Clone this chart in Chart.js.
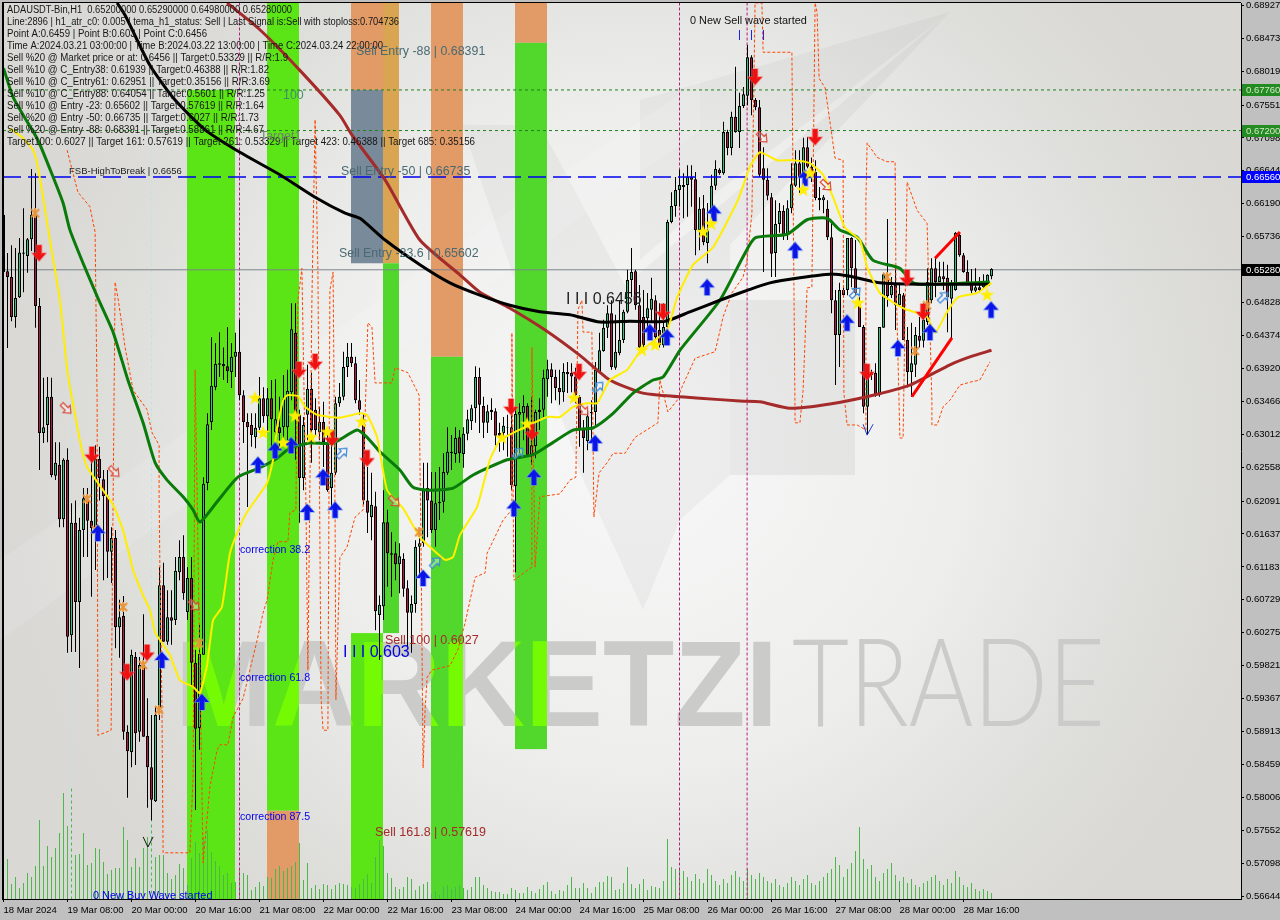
<!DOCTYPE html>
<html><head><meta charset="utf-8"><style>html,body{margin:0;padding:0;background:#c0c0c0;overflow:hidden}canvas{display:block}</style>
<script src="https://cdn.jsdelivr.net/npm/chart.js@4"></script></head><body>
<div style="width:1280px;height:920px"><canvas id="c" width="1280" height="920"></canvas></div>
<script>
// Prices are quoted in 1/10000 of a unit (6528 = 0.6528)
const opens=[6604,6526,6518,6463,6490,6550,6547,6570,6604,6478,6303,6314,6353,6244,6259,6184,6266,6024,6179,6070,6169,6210,6182,6173,6267,6239,6216,6139,6158,6035,6051,5891,5863,5994,5891,5983,5885,5842,5795,5924,6093,6015,6049,6045,6111,6132,6056,6103,5986,5896,5997,6234,6318,6366,6397,6398,6395,6387,6408,6415,6355,6318,6314,6297,6310,6351,6326,6351,6304,6311,6311,6311,6359,6441,6328,6241,6328,6364,6335,6304,6318,6289,6227,6248,6344,6353,6394,6408,6399,6348,6321,6210,6187,6202,6052,6064,6180,6137,6137,6122,6129,6089,6055,6067,6146,6151,6227,6210,6169,6206,6208,6248,6275,6274,6297,6274,6302,6319,6337,6380,6340,6317,6335,6333,6303,6303,6311,6311,6230,6328,6330,6340,6273,6285,6335,6335,6377,6391,6380,6365,6359,6387,6386,6381,6353,6308,6292,6330,6332,6387,6416,6448,6468,6393,6413,6431,6470,6514,6526,6479,6463,6461,6473,6486,6445,6424,6449,6594,6616,6638,6642,6645,6656,6653,6583,6613,6565,6605,6644,6666,6661,6718,6696,6739,6718,6754,6768,6821,6762,6752,6668,6652,6628,6551,6591,6609,6576,6613,6644,6675,6656,6697,6670,6663,6627,6624,6612,6573,6486,6438,6500,6500,6572,6530,6482,6449,6339,6386,6386,6355,6448,6514,6493,6507,6479,6493,6431,6387,6397,6437,6430,6456,6486,6530,6511,6519,6517,6488,6500,6576,6548,6525,6510,6499,6504,6504,6511,6519];
const closes=[6525,6518,6463,6489,6552,6552,6570,6604,6478,6303,6311,6353,6245,6262,6184,6266,6022,6179,6070,6169,6213,6182,6172,6267,6241,6216,6139,6158,6035,6049,5891,5864,5997,5889,5983,5884,5842,5797,5914,6093,6015,6049,6044,6113,6132,6082,6103,5986,5895,5998,6233,6315,6368,6398,6399,6395,6388,6408,6415,6355,6318,6311,6300,6310,6351,6326,6351,6322,6322,6303,6350,6361,6446,6328,6241,6314,6364,6307,6307,6318,6290,6224,6248,6344,6353,6394,6408,6399,6348,6335,6210,6193,6204,6057,6066,6180,6137,6135,6122,6133,6088,6055,6067,6146,6151,6224,6210,6169,6206,6208,6249,6277,6277,6296,6275,6302,6322,6337,6380,6342,6317,6333,6332,6299,6299,6313,6310,6231,6329,6332,6340,6273,6286,6332,6332,6379,6391,6380,6365,6359,6387,6384,6381,6355,6308,6296,6326,6332,6390,6417,6448,6468,6394,6415,6431,6470,6514,6525,6479,6421,6424,6475,6488,6435,6424,6449,6594,6616,6638,6645,6645,6656,6652,6583,6612,6566,6583,6644,6667,6661,6718,6696,6739,6718,6754,6770,6821,6762,6752,6659,6652,6630,6550,6591,6609,6576,6613,6646,6675,6656,6697,6670,6659,6627,6624,6628,6573,6486,6438,6500,6493,6572,6530,6496,6449,6339,6386,6383,6355,6449,6522,6492,6506,6479,6495,6431,6387,6399,6438,6430,6459,6511,6530,6511,6519,6515,6490,6510,6579,6548,6525,6510,6499,6504,6500,6511,6521,6529];
const highs=[6672,6551,6562,6558,6572,6613,6572,6667,6661,6489,6379,6380,6379,6290,6290,6268,6282,6206,6210,6186,6227,6227,6279,6286,6284,6252,6252,6173,6169,6073,6078,5900,6004,6001,5994,6053,5937,5914,5925,6118,6124,6086,6086,6132,6155,6162,6118,6132,6004,6038,6242,6330,6435,6427,6442,6421,6449,6427,6441,6459,6362,6330,6330,6330,6380,6366,6365,6376,6377,6353,6383,6390,6482,6482,6335,6325,6397,6386,6351,6339,6346,6307,6303,6353,6372,6415,6427,6427,6408,6376,6330,6256,6248,6222,6079,6224,6197,6166,6153,6151,6137,6100,6079,6155,6165,6262,6262,6249,6249,6256,6275,6311,6300,6311,6307,6311,6335,6342,6395,6393,6353,6342,6351,6337,6317,6325,6328,6348,6339,6344,6355,6344,6353,6335,6351,6390,6404,6399,6390,6390,6399,6401,6399,6393,6355,6321,6335,6348,6401,6441,6459,6479,6486,6466,6486,6473,6528,6558,6528,6507,6500,6496,6517,6493,6482,6482,6597,6635,6656,6666,6661,6672,6672,6663,6628,6631,6620,6659,6679,6668,6732,6721,6746,6808,6772,6780,6838,6824,6765,6762,6697,6668,6634,6624,6620,6617,6624,6675,6693,6693,6710,6711,6683,6679,6642,6631,6624,6597,6500,6510,6504,6572,6573,6569,6490,6452,6390,6390,6399,6449,6524,6598,6518,6532,6507,6496,6449,6455,6449,6463,6482,6530,6544,6544,6539,6539,6535,6514,6580,6579,6551,6541,6529,6530,6518,6522,6522,6530];
const lows=[6500,6420,6457,6448,6489,6497,6524,6554,6448,6252,6289,6290,6242,6238,6173,6173,6000,6001,6001,5979,6132,6132,6077,6114,6210,6100,6103,6096,6006,5993,5880,5800,5842,5845,5877,5884,5786,5769,5794,5907,6015,6011,6011,6038,6100,6073,6045,5953,5783,5866,5997,6224,6307,6362,6380,6376,6372,6365,6380,6348,6289,6201,6284,6282,6307,6317,6303,6284,6270,6284,6286,6293,6348,6266,6179,6224,6293,6262,6300,6293,6256,6222,6201,6245,6339,6348,6380,6394,6344,6328,6204,6165,6155,6031,5990,6045,6091,6077,6100,6082,6077,6008,6000,6055,6104,6146,6159,6165,6146,6183,6193,6245,6252,6262,6262,6255,6293,6307,6317,6303,6296,6303,6321,6286,6277,6279,6270,6224,6111,6275,6293,6270,6259,6268,6307,6325,6353,6344,6348,6342,6346,6358,6359,6344,6284,6248,6279,6293,6310,6387,6415,6434,6390,6390,6410,6427,6468,6490,6473,6420,6421,6445,6455,6431,6421,6421,6441,6592,6601,6615,6599,6601,6615,6548,6555,6562,6537,6594,6638,6659,6659,6686,6686,6717,6696,6751,6755,6741,6748,6656,6525,6624,6518,6518,6579,6569,6569,6606,6642,6634,6652,6668,6649,6624,6610,6606,6569,6468,6369,6394,6490,6493,6504,6493,6449,6330,6300,6376,6353,6353,6448,6477,6489,6445,6477,6431,6366,6353,6380,6421,6421,6452,6482,6490,6511,6500,6442,6434,6499,6546,6524,6507,6496,6497,6497,6503,6510,6515];
const volumes=[35,40,15,22,11,16,26,22,33,79,33,53,42,51,66,106,73,112,44,45,66,34,36,51,50,37,25,29,31,31,72,59,32,41,32,51,62,79,42,44,44,26,20,24,35,31,14,41,57,46,62,69,47,38,33,24,26,16,17,29,26,24,9,12,17,13,22,21,30,33,28,31,33,37,56,19,36,11,14,10,15,14,10,14,16,15,14,12,11,15,20,25,16,42,59,53,26,21,12,10,12,22,20,9,13,15,17,5,8,4,12,14,10,12,14,11,9,12,22,22,14,11,8,7,7,5,5,11,9,6,6,12,8,6,10,14,17,8,5,9,8,14,22,11,11,16,11,6,12,17,17,23,22,9,10,16,32,15,11,15,20,9,13,12,11,18,60,32,30,31,28,22,18,25,20,16,30,24,18,14,20,16,24,28,22,18,30,24,20,26,22,18,16,20,14,12,16,22,18,14,20,24,16,14,18,22,26,30,42,34,22,30,36,48,72,40,30,34,22,18,26,30,36,24,18,22,16,20,14,12,16,18,22,24,18,14,20,16,28,22,14,12,16,10,8,10,8,6];

const blackX=[28.4,30.4,36.6,42.9,50.4,59.1,69.1,77.9,85.4,89.1,95.4,104.1,111.6,119.1,126.6,134.1,141.6,149.1,156.6,165.4,171.6,179.1,186.6,191.6,199.1,206.6,211.6,219.1,229.1,246.6];
const blackP=[6896,6879,6810,6762,6721,6690,6659,6628,6606,6599,6569,6535,6510,6493,6479,6470,6466,6456,6457,6457,6470,6486,6501,6510,6517,6522,6519,6510,6508,6508];
const brownX=[55.9,64.1,74.1,84.1,87.1,95.4,104.1,114.1,119.1,126.6,135.4,144.1,151.6,159.1,164.1,174.1,184.1,189.1,196.6,206.6,216.6,226.6,236.6,241.6,247];
const brownP=[6896,6859,6803,6741,6714,6652,6569,6521,6497,6475,6445,6410,6376,6359,6355,6351,6347,6346,6337,6343,6354,6369,6397,6408,6417];
const yellowX=[1.6,4.6,7.4,8.4,9.6,11.6,14.1,16.1,19.6,20.9,24.9,27.4,29.9,32.4,34.9,36.6,37.9,39.9,41.6,44.1,47.4,49.1,50.9,52.4,54.6,56.6,58.4,60.9,65.9,67.4,68.4,69.9,70.9,73.6,75.4,78.4,84.1,89.1,90.9,93.4,95.9,99.9,104.1,106.6,110.4,112.4,114.1,118.4,121.6,124.1,127.4,135.9,139.1,142.4,145.9,148.4,151.6,155.9,159.1,165.9,168.4,172.4,177.4,183.6,186.6,189.1,193.4,197.4,201.6,204.9,207.4,210.4,214.1,215.9,219.1,224.9,230.9,232.9,235.9,238.6,243.4,247];
const yellowP=[6723,6711,6693,6675,6638,6569,6486,6383,6279,6256,6224,6204,6169,6114,6079,6059,6028,6011,5997,5962,5953,5944,5983,6045,6063,6137,6165,6194,6234,6266,6311,6348,6355,6354,6339,6328,6324,6330,6328,6297,6224,6199,6159,6146,6128,6132,6162,6201,6266,6293,6303,6325,6325,6339,6344,6344,6376,6390,6415,6445,6490,6535,6559,6624,6670,6690,6679,6679,6675,6659,6628,6586,6569,6532,6496,6475,6463,6441,6470,6490,6496,6510];
const greenX=[0,2.4,5.4,8.6,12.4,14.9,16.6,19.9,23.6,27.4,31.1,34.9,37.9,40.9,44.9,47.4,49.1,53.4,58.6,64.1,68.4,71.6,76.6,82.4,88.4,90.9,94.1,99.1,102.4,106.6,112.4,117.4,125.9,132.4,137.4,142.4,147.4,152.4,157.4,162.4,164.9,169.1,179.1,184.9,187.9,195.9,200.9,205.9,209.1,213.4,217.4,224.1,227.4,230.9,246.6];
const greenP=[6806,6766,6737,6707,6656,6620,6583,6537,6489,6442,6376,6317,6262,6238,6215,6197,6180,6208,6242,6255,6268,6282,6289,6289,6307,6297,6277,6252,6228,6224,6227,6245,6266,6273,6290,6307,6310,6330,6358,6376,6380,6417,6486,6546,6572,6577,6597,6599,6583,6573,6541,6530,6510,6508,6511];
const envX=[15.9,18.6,21.6,22.9,23.4,23.6,26.9,27.4,27.9,28.6,30.4,32.4,35.9,37.1,38.9,38.9,39.1,39.6,39.9,46.6,47.4,47.9,49.9,51.6,53.4,54.1,56.1,57.4,59.9,63.4,64.9,65.9,67.4,68.6,71.1,71.6,73.1,73.6,74.6,75.6,76.1,77.1,77.9,78.6,79.4,79.9,81.1,81.6,82.4,82.9,83.1,84.1,85.9,87.9,89.9,90.4,91.1,92.1,92.9,97.1,97.9,101.1,103.9,104.4,104.9,105.4,105.9,107.1,111.6,113.6,115.4,117.9,120.4,120.9,124.9,127.1,127.1,127.6,132.1,132.1,132.9,134.1,139.1,141.6,143.1,143.6,144.6,144.9,147.1,147.6,148.9,150.9,152.4,155.4,157.9,159.9,163.6,164.1,166.1,168.4,169.6,172.9,177.9,179.9,182.1,184.9,185.9,187.1,187.9,189.6,189.9,197.1,197.9,199.1,199.9,200.9,202.1,202.9,203.4,203.9,205.4,207.9,209.9,210.1,210.9,213.4,215.6,215.6,215.9,218.4,220.9,222.9,223.1,224.1,224.9,225.9,228.4,230.9,232.1,232.1,233.4,234.9,236.6,239.1,241.6,244.1,246.6];
const envP=[6693,6635,6615,6580,6348,5886,5893,6210,6511,6490,6421,6362,6335,6304,6286,6215,6118,5932,5724,5724,5829,6390,5710,5815,5866,5873,5873,5911,5937,6017,6055,6073,6128,6153,6153,6193,6197,6486,6530,6210,5976,6486,6735,6528,5935,5893,5893,6500,6525,6183,5935,6131,6146,6187,6197,6325,6455,6449,6372,6372,6393,6386,6355,6142,5841,5921,5966,5976,5982,6004,6041,6104,6110,6137,6183,6197,6441,6100,6118,6421,6118,6215,6219,6238,6242,6473,6486,6442,6442,6187,6248,6262,6275,6275,6297,6304,6317,6376,6332,6348,6366,6406,6415,6463,6496,6518,6541,6606,6896,6896,6828,6828,6317,6317,6362,6503,6504,6896,6883,6792,6779,6682,6679,6358,6314,6314,6307,6624,6703,6683,6677,6677,6524,6296,6296,6649,6610,6592,6348,6314,6314,6339,6348,6369,6373,6376,6401];
const blueUpX=[23.6,39.6,49.6,63.6,67.9,71.9,75.9,79.9,82.9,104.9,127.6,132.6,147.9,161.6,165.9,175.9,177.6,197.9,200.4,210.9,223.6,231.6,246.9];
const blueUpP=[6165,5990,5932,6259,6279,6286,6194,6242,6197,6103,6199,6242,6289,6442,6435,6504,6606,6555,6655,6455,6420,6442,6473];
const redDownX=[8.9,22.1,30.9,35.9,73.9,77.9,82.1,90.9,126.9,132.1,143.9,164.9,187.9,202.9,215.9,225.9,229.9];
const redDownP=[6551,6273,5973,6000,6390,6401,6296,6268,6339,6304,6387,6470,6794,6711,6387,6517,6470];
const starX=[62.9,64.9,69.9,72.9,76.9,80.9,89.6,124.6,130.9,142.6,159.6,162.9,174.9,176.9,199.9,201.6,213.6,245.9];
const starP=[6351,6303,6289,6326,6297,6304,6318,6296,6315,6351,6417,6424,6580,6591,6638,6661,6482,6493];
const crossX=[7.9,20.9,23.1,29.9,34.9,38.9,48.9,103.9,220.9,230.9,227.9];
const crossP=[6606,6212,6169,6063,5983,5921,6013,6166,6518,6479,6416];
const hollowBlueX=[84.6,107.9,128.6,148.6,212.9,234.9];
const hollowBlueP=[6275,6124,6275,6366,6496,6490];
const hollowRedX=[15.6,27.6,47.6,97.6,144.9,189.6,205.6];
const hollowRedP=[6337,6250,6066,6209,6335,6711,6645];
const magentaLines=[59,169,185.9];
const cyanLines=[17,37];
const levelGreen=[6776,6720];
const levelBlue=[6656];
const levelClose=[6528];
const tagTexts=["0.67760","0.67200","0.66560","0.65280"];
const tagPrices=[6776,6720,6656,6528];
const xTickIndex=[0,16,32,48,64,80,96,112,128,144,160,176,192,208,224,240];
const xTickLabels=["18 Mar 2024","19 Mar 08:00","20 Mar 00:00","20 Mar 16:00","21 Mar 08:00","22 Mar 00:00","22 Mar 16:00","23 Mar 08:00","24 Mar 00:00","24 Mar 16:00","25 Mar 08:00","26 Mar 00:00","26 Mar 16:00","27 Mar 08:00","28 Mar 00:00","28 Mar 16:00"];
const yTickLabels=["0.68927","0.68473","0.68019","0.67551","0.67098","0.66644","0.66190","0.65736","0.65282","0.64828","0.64374","0.63920","0.63466","0.63012","0.62558","0.62091","0.61637","0.61183","0.60729","0.60275","0.59821","0.59367","0.58913","0.58459","0.58006","0.57552","0.57098","0.56644"];
const infoLines=["ADAUSDT-Bin,H1  0.65200000 0.65290000 0.64980000 0.65280000","Line:2896 | h1_atr_c0: 0.005 | tema_h1_status: Sell | Last Signal is:Sell with stoploss:0.704736","Point A:0.6459 | Point B:0.603 | Point C:0.6456","Time A:2024.03.21 03:00:00 | Time B:2024.03.22 13:00:00 | Time C:2024.03.24 22:00:00","Sell %20 @ Market price or at: 0.6456 || Target:0.53329 || R/R:1.9","Sell %10 @ C_Entry38: 0.61939 || Target:0.46388 || R/R:1.82","Sell %10 @ C_Entry61: 0.62951 || Target:0.35156 || R/R:3.69","Sell %10 @ C_Entry88: 0.64054 || Target:0.5601 || R/R:1.25","Sell %10 @ Entry -23: 0.65602 || Target:0.57619 || R/R:1.64","Sell %20 @ Entry -50: 0.66735 || Target:0.6027 || R/R:1.73","Sell %20 @ Entry -88: 0.68391 || Target:0.58861 || R/R:4.67","Target100: 0.6027 || Target 161: 0.57619 || Target 261: 0.53329 || Target 423: 0.46388 || Target 685: 0.35156"];
const infoEnds=[292,399,207,383,288,269,270,265,264,259,264,475];
// vertical zones: bar index range and price range
const bandFrom=[45.875,65.875,65.875,86.875,86.875,86.875,94.875,94.875,106.875,106.875,127.875,127.875];
const bandTo=[57.875,73.875,73.875,94.875,94.875,94.875,98.875,98.875,114.875,114.875,135.875,135.875];
const bandHigh=[6776,6896,5782,6896,6776,6027,6896,6537,6896,6408,6896,6841];
const bandLow=[5660,5782,5660,6776,6537,5660,6537,6027,6408,5660,6841,5867];
const bandKind=["g","g","o","o","s","g","t","d","o","g2","o","g2"];

const price=v=>v/1e4;
const pts=(xs,ps)=>xs.map((x,i)=>({x,y:price(ps[i])}));
const GREEN_BODY="#2dc47f",RED_BODY="#b3174a";
const mk=(w,h,draw)=>{const c=document.createElement('canvas');c.width=w;c.height=h;draw(c.getContext('2d'));return c;};
const arrow=(col,halo,up)=>mk(16,18,g=>{g.save();if(!up){g.translate(0,18);g.scale(1,-1);}
 g.beginPath();g.moveTo(8,1);g.lineTo(15,9);g.lineTo(11,9);g.lineTo(10.5,7);g.lineTo(10.5,17);g.lineTo(5.5,17);g.lineTo(5.5,7);g.lineTo(5,9);g.lineTo(1,9);g.closePath();
 g.strokeStyle=halo;g.lineWidth=1.5;g.stroke();g.fillStyle=col;g.fill();g.restore();});
const star=mk(16,16,g=>{g.beginPath();for(let i=0;i<10;i++){const r=i%2?3:7.5,a=-Math.PI/2+i*Math.PI/5;g.lineTo(8+r*Math.cos(a),8+r*Math.sin(a));}g.closePath();g.fillStyle='#ffee00';g.fill();});
const cross=mk(10,10,g=>{g.strokeStyle='#e8943a';g.lineWidth=2;g.beginPath();g.moveTo(1,1);g.lineTo(9,9);g.moveTo(9,1);g.lineTo(1,9);g.moveTo(5,0);g.lineTo(5,10);g.stroke();});
const hollow=(col,up)=>mk(16,16,g=>{g.translate(8,8);g.rotate(up?Math.PI/4:-Math.PI/4+Math.PI);g.strokeStyle=col;g.lineWidth=1.2;g.fillStyle='rgba(255,255,255,.35)';g.beginPath();g.moveTo(0,-7);g.lineTo(5,-1);g.lineTo(2,-1);g.lineTo(2,6);g.lineTo(-2,6);g.lineTo(-2,-1);g.lineTo(-5,-1);g.closePath();g.fill();g.stroke();});

const line=(d,color,width,order,extra)=>Object.assign({type:'line',data:d,borderColor:color,borderWidth:width,pointRadius:0,order,fill:false,tension:0},extra||{});
const marks=(d,img,order)=>({type:'scatter',data:d,pointStyle:img,pointRadius:8,order,showLine:false});
const XMIN=-0.125,XMAX=309.375;
const vlines=(arr,col,dash,order,bottom)=>arr.map(x=>line([{x,y:0.70},{x,y:bottom}],col,1,order,{borderDash:dash}));

const datasets=[
 {type:'bar',data:volumes.map((v,i)=>({x:i,y:v})),yAxisID:'yVol',backgroundColor:'#4cb84c',barThickness:1,order:20,grouped:false,inflateAmount:0},
 {type:'bar',data:opens.map((o,i)=>({x:i,y:[price(lows[i]),price(highs[i])]})),backgroundColor:'#000',barThickness:1,order:12,inflateAmount:0},
 {type:'bar',data:opens.map((o,i)=>({x:i,y:[price(o),price(closes[i])]})),backgroundColor:opens.map((o,i)=>closes[i]>=o?GREEN_BODY:RED_BODY),borderColor:'#000',borderWidth:1,borderSkipped:false,barThickness:3,order:11,inflateAmount:0},
 ...vlines(magentaLines,'#b0207a',[3,2],15,0.5),
 ...vlines(cyanLines,'#bfe3e6',[3,3],15,0.5),
 line(pts(envX,envP),'#ff4500',1,9,{borderDash:[3,2]}),
 line([{x:XMIN,y:price(levelGreen[0])},{x:XMAX,y:price(levelGreen[0])}],'#1f7f1f',1,8,{borderDash:[3,3]}),
 line([{x:XMIN,y:price(levelGreen[1])},{x:XMAX,y:price(levelGreen[1])}],'#1f7f1f',1,8,{borderDash:[3,3]}),
 line([{x:XMIN,y:price(levelBlue[0])},{x:XMAX,y:price(levelBlue[0])}],'#0000f0',1.4,8,{borderDash:[18,7]}),
 line([{x:XMIN,y:price(levelClose[0])},{x:XMAX,y:price(levelClose[0])}],'#7c858c',1,13),
 line(pts(brownX,brownP),'#a52a2a',3,7,{tension:.2}),
 line(pts(greenX,greenP),'#0a7a0a',3,6,{tension:.2}),
 line(pts(blackX,blackP),'#000',3,5,{tension:.2}),
 line(pts(yellowX,yellowP),'#ffee00',2,4,{tension:.15}),
 line([{x:227.1,y:price(6353)},{x:237.1,y:price(6434)}],'#ff0000',3,3),
 line([{x:232.9,y:price(6544)},{x:239.1,y:price(6580)}],'#ff0000',3,3),
 line([{x:34.9,y:price(5746)},{x:36.1,y:price(5732)},{x:37.4,y:price(5746)}],'#111',1,3),
 line([{x:214.9,y:price(6315)},{x:215.9,y:price(6300)},{x:217.4,y:price(6315)}],'#1a3fd0',1,3),
 marks(pts(hollowBlueX,hollowBlueP),hollow('#3a86d8',true),2),
 marks(pts(hollowRedX,hollowRedP),hollow('#d84a3a',false),2),
 marks(pts(crossX,crossP),cross,2),
 marks(pts(starX,starP),star,1),
 marks(pts(blueUpX,blueUpP),arrow('#0a14e8','rgba(120,160,240,.75)',true),1),
 marks(pts(redDownX,redDownP),arrow('#f01010','rgba(240,120,120,.6)',false),1),
];

const bandColor={g:'#5ce516',g2:'#52d82c',o:'#e29a66',s:'#798a9b',t:'#d9a552',d:'#50d62c'};
function watermark(g,color){
 g.fillStyle=color;g.textBaseline='alphabetic';g.textAlign='left';
 g.font='bold 123px "Liberation Sans"';g.fillText('MARKETZI',175,726,603);
 g.font='300 123px Lato';g.fillText('TRADE',792,726,313);
}
function bandsPath(ch,g){const X=ch.scales.x,Y=ch.scales.y;
 bandFrom.forEach((f,i)=>{const x0=X.getPixelForValue(f),x1=X.getPixelForValue(bandTo[i]),y0=Y.getPixelForValue(price(bandHigh[i])),y1=Y.getPixelForValue(price(bandLow[i]));
  if(bandKind[i]!=='o'&&bandKind[i]!=='s'&&bandKind[i]!=='t')g.rect(x0,y0,x1-x0,y1-y0);});}
const backdrop={id:'backdrop',
 afterLayout(ch){const a=ch.chartArea,bottom=a.bottom;a.top=3;a.height=bottom-3;
  [ch.scales.y,ch.scales.yVol].forEach(s=>{s.top=3;s.bottom=bottom;s.height=bottom-3;s.configure();});},
 beforeDraw(ch){const g=ch.ctx,a=ch.chartArea;g.save();
  g.fillStyle='#c0c0c0';g.fillRect(0,0,1280,920);
  const r=g.createRadialGradient(640,440,60,640,440,640);r.addColorStop(0,'#f6f6f6');r.addColorStop(.45,'#eeeeed');r.addColorStop(.8,'#dededb');r.addColorStop(1,'#d9d8d5');
  g.fillStyle=r;g.fillRect(a.left,a.top,a.right-a.left,a.bottom-a.top);
  const poly=(p,c)=>{g.fillStyle=c;g.beginPath();p.forEach(q=>g.lineTo(q[0],q[1]));g.closePath();g.fill();};
  poly([[462,125],[540,125],[625,285],[950,12],[800,170],[730,245],[730,475],[680,520],[643,610],[582,477],[545,370]],'rgba(0,0,0,.035)');
  poly([[730,300],[855,300],[855,475],[730,475]],'rgba(0,0,0,.05)');
  poly([[640,100],[950,12],[720,190],[640,260]],'rgba(0,0,0,.03)');
  poly([[0,560],[700,80],[700,130],[0,640]],'rgba(255,255,255,.12)');
  watermark(g,'#cbcbc9');
  g.restore();},
 beforeDatasetsDraw(ch){const g=ch.ctx,X=ch.scales.x,Y=ch.scales.y;g.save();
  bandFrom.forEach((f,i)=>{const x0=X.getPixelForValue(f),x1=X.getPixelForValue(bandTo[i]),y0=Y.getPixelForValue(price(bandHigh[i])),y1=Y.getPixelForValue(price(bandLow[i]));
   g.fillStyle=bandColor[bandKind[i]];g.fillRect(x0,y0,x1-x0,y1-y0);});
  g.beginPath();bandsPath(ch,g);g.clip();watermark(g,'#74fb04');
  g.restore();},
 afterDraw(ch){const g=ch.ctx,Y=ch.scales.y,a=ch.chartArea;g.save();
  g.fillStyle='#000';g.fillRect(2,2,1239,1);g.fillRect(2,2,2,898);g.fillRect(2,899,1239,1);
  g.textBaseline='middle';g.textAlign='left';
  tagTexts.forEach((t,i)=>{const y=Math.round(Y.getPixelForValue(price(tagPrices[i])));
   g.fillStyle=['#228b22','#228b22','#0000ff','#000'][i];g.fillRect(1242,y-6,38,12);
   g.fillStyle=i<2?'#d8e8c8':'#fff';g.font='9.5px "Liberation Sans"';g.fillText(t,1246,y+.5);});
  g.beginPath();g.rect(0,0,1241,899);g.clip();
  const T=(s,x,y,font,col)=>{g.font=font;g.fillStyle=col;g.fillText(s,x,y);};
  g.font='10px "Liberation Sans"';g.fillStyle='#161616';
  infoLines.forEach((s,i)=>g.fillText(s,7,10.5+12*i,infoEnds[i]-7));
  T('FSB-HighToBreak | 0.6656',69,171,'9.5px "Liberation Sans"','#222');
  const big='12.4px "Liberation Sans"';
  T('Sell Entry -88 | 0.68391',356,52,big,'#4a6a72');
  T('100',283,96,big,'#3f8f6a');
  T('Target1',260,137,big,'#6f7f70');
  T('Sell Entry -50 | 0.66735',341,172,big,'#4a6a72');
  T('Sell Entry -23.6 | 0.65602',339,254,big,'#4a6a72');
  T('I I I 0.6456',566,300,'16px "Liberation Sans"','#222');
  T('I I I 0.603',343,653,'16px "Liberation Sans"','#0000e0');
  T('Sell 100 | 0.6027',385,641,'12.5px "Liberation Sans"','#a52a2a');
  T('Sell 161.8 | 0.57619',375,833,'12.5px "Liberation Sans"','#a52a2a');
  T('correction 38.2',240,550,'10.6px "Liberation Sans"','#0000f0');
  T('correction 61.8',240,678,'10.6px "Liberation Sans"','#0000f0');
  T('correction 87.5',240,817,'10.6px "Liberation Sans"','#0000f0');
  T('0 New Sell wave started',690,21,'10.9px "Liberation Sans"','#111');
  T('0 New Buy Wave started',93,896,'10.9px "Liberation Sans"','#0000f0');
  T('|   |   |',738,35,'11px "Liberation Sans"','#0000f0');
  g.restore();}
};
new Chart(document.getElementById('c'),{type:'bar',data:{datasets},plugins:[backdrop],options:{
 responsive:false,animation:false,devicePixelRatio:1,
 layout:{autoPadding:false,padding:{left:3,top:3,right:0,bottom:0}},
 plugins:{legend:{display:false},tooltip:{enabled:false},title:{display:false}},
 events:[],
 datasets:{bar:{grouped:false}},
 scales:{
  x:{type:'linear',offset:false,min:XMIN,max:XMAX,grid:{display:true,offset:false,drawOnChartArea:false,drawTicks:true,tickLength:3,color:'#000'},border:{display:true,color:'#000'},
     afterBuildTicks(s){s.ticks=xTickIndex.map(v=>({value:v}));},
     afterFit(s){s.height=21;},
     ticks:{autoSkip:false,maxRotation:0,minRotation:0,align:'start',padding:3,color:'#000',font:{family:'"Liberation Sans"',size:9.5},callback:(v,i)=>xTickLabels[i]}},
  y:{type:'linear',position:'right',min:price(5660.3),max:price(6895.9),grid:{display:true,drawOnChartArea:false,drawTicks:true,tickLength:3,color:'#000'},border:{display:true,color:'#000'},
     afterBuildTicks(s){s.ticks=yTickLabels.map(l=>({value:parseFloat(l)}));},
     afterFit(s){s.width=39;},
     ticks:{autoSkip:false,padding:2,color:'#000',font:{family:'"Liberation Sans"',size:9.5},callback:(v,i)=>yTickLabels[i]}},
  yVol:{type:'linear',display:false,min:0,max:896}
 }
}});
</script></body></html>
